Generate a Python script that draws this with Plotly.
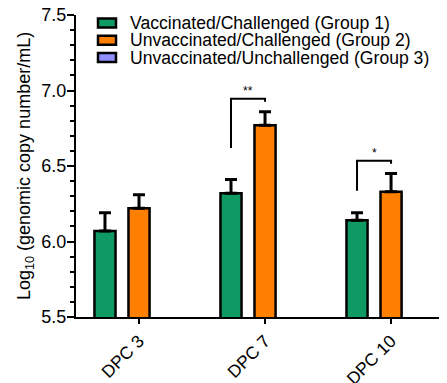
import plotly.graph_objects as go

categories = ["DPC 3", "DPC 7", "DPC 10"]
group_names = ["Vaccinated/Challenged (Group 1)",
               "Unvaccinated/Challenged (Group 2)",
               "Unvaccinated/Unchallenged (Group 3)"]
g1 = [6.07, 6.32, 6.14]
g1_err = [0.12, 0.09, 0.05]
g2 = [6.22, 6.77, 6.33]
g2_err = [0.09, 0.09, 0.12]
g3 = [None, None, None]
g3_err = [0, 0, 0]
colors = ["#0E9A62", "#FF7F00", "#8F8FFF"]
y_ticks = [5.5, 6.0, 6.5, 7.0, 7.5]
sig_pairs = [(1, "**"), (2, "*")]          # category index, label
sig_left_bottom = {1: 6.62, 2: 6.336}

# page has 8px body margin: compensate
OFF = 8
W, H = 447 - OFF, 383 - OFF
PL, PR, PT, PB = 76, 447, 15, 317      # plot area in page pixels
L, T = PL - OFF, PT - OFF
R = W - (PR - OFF)
B = H - (PB - OFF)
bargap = 0.19
bargroupgap = 0.38
slot = (1 - bargap) / 3

fig = go.Figure()
for name, vals, errs, col in zip(group_names, [g1, g2, g3], [g1_err, g2_err, g3_err], colors):
    fig.add_trace(go.Bar(
        x=categories, y=vals, name=name, showlegend=False,
        marker=dict(color=col, line=dict(color="black", width=2.5)),
        error_y=dict(type="data", symmetric=False, array=errs, arrayminus=[0] * len(errs),
                     color="black", thickness=3, width=6),
    ))

# significance brackets
for idx, lab in sig_pairs:
    xl = idx - slot
    xr = idx
    top = g2[idx] + g2_err[idx] + 0.085
    fig.add_shape(type="path",
                  path=f"M {xl},{sig_left_bottom[idx]} L {xl},{top} L {xr},{top} L {xr},{top - 0.02}",
                  xref="x", yref="y", line=dict(color="black", width=2))
    fig.add_annotation(x=(xl + xr) / 2, y=top, text=lab, showarrow=False,
                       xref="x", yref="y", yanchor="bottom", yshift=-1,
                       font=dict(size=12, color="black"))

# manual legend (page pixel -> paper)
pw, ph = PR - PL, PB - PT
def px(x):
    return (x - PL) / pw
def py(y):
    return (PB - y) / ph
row_y = [23, 40.3, 57.6]
for name, col, yy in zip(group_names, colors, row_y):
    fig.add_shape(type="rect", xref="paper", yref="paper",
                  x0=px(98), x1=px(116), y0=py(yy + 4.5), y1=py(yy - 4.5),
                  fillcolor=col, line=dict(color="black", width=2.5))
    fig.add_annotation(xref="paper", yref="paper", x=px(129), y=py(yy),
                       xanchor="left", yanchor="middle", text=name, showarrow=False,
                       borderpad=0, font=dict(size=17.6, color="black"))

# y axis title
fig.add_annotation(xref="paper", yref="paper", x=px(25), y=py((PT + PB) / 2),
                   text="Log<sub>10</sub> (genomic copy number/mL)", textangle=-90,
                   showarrow=False, xanchor="center", yanchor="middle",
                   font=dict(size=18, color="black"))

fig.update_layout(
    width=W, height=H, autosize=False,
    margin=dict(l=L, r=R, t=T, b=B, pad=0, autoexpand=False),
    paper_bgcolor="white", plot_bgcolor="white",
    barmode="group", bargap=bargap, bargroupgap=bargroupgap,
    font=dict(family="Liberation Sans, Arial, sans-serif", color="black"),
    showlegend=False,
)
fig.update_xaxes(type="category", range=[-0.5, 2.444], showline=True, linecolor="black",
                 linewidth=2, ticks="outside", ticklen=5, tickwidth=2, tickcolor="black",
                 tickangle=-45, tickfont=dict(size=17.5), showgrid=False, zeroline=False,
                 automargin=False, ticklabeloverflow="allow")
fig.update_yaxes(range=[5.5, 7.5], tickvals=y_ticks, ticktext=[f"{v:.1f}" for v in y_ticks],
                 showline=True, linecolor="black", linewidth=2, ticks="outside",
                 ticklen=7, tickwidth=2, tickcolor="black", tickfont=dict(size=18),
                 ticklabelstandoff=-3,
                 minor=dict(dtick=0.1, tick0=5.5, ticks="outside", ticklen=4, tickwidth=2,
                            tickcolor="black", showgrid=False),
                 showgrid=False, zeroline=False, automargin=False, ticklabeloverflow="allow")

fig.write_html("out.html")
